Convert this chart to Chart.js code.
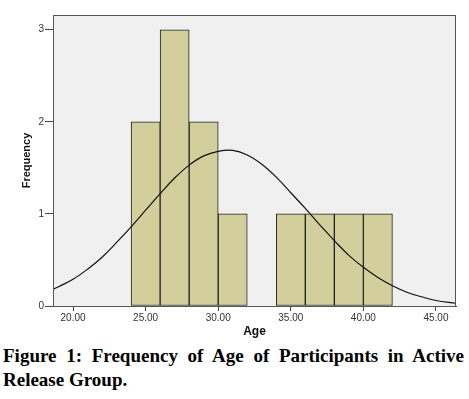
<!DOCTYPE html>
<html>
<head>
<meta charset="utf-8">
<script src="https://cdn.jsdelivr.net/npm/chart.js@4/dist/chart.umd.min.js"></script>
<style>
  body { margin: 0; background: #fff; }
  #wrap { position: relative; width: 469px; height: 340px; }
  #caption {
    width: 461px; margin-left: 3px; margin-top: 4px;
    font-family: "Liberation Serif", "Times New Roman", serif;
    font-weight: bold; font-size: 19px; line-height: 24px;
    text-align: justify; text-align-last: left; color: #000;
  }
</style>
</head>
<body>
<div id="wrap"><canvas id="myChart" width="469" height="340"></canvas></div>
<div id="caption">Figure 1: Frequency of Age of Participants in Active Release Group.</div>
<script>
// histogram bins (centre of each 2-year bin) and counts
var binCenters = [25, 27, 29, 31, 35, 37, 39, 41];
var binCounts = [2, 3, 2, 1, 1, 1, 1, 1];

// normal curve
var curveX = [18.62, 19, 20, 21, 22, 23, 24, 25, 26, 27, 28, 29, 30, 31, 32, 33, 34, 35, 36, 37, 38, 39, 40, 41, 42, 43, 44, 45, 46.38];
var curveY = [0.18, 0.21, 0.29, 0.40, 0.53, 0.69, 0.86, 1.04, 1.22, 1.39, 1.53, 1.63, 1.68, 1.69, 1.64, 1.54, 1.40, 1.23, 1.06, 0.88, 0.71, 0.55, 0.42, 0.31, 0.22, 0.15, 0.10, 0.06, 0.03];

var xTicks = [20, 25, 30, 35, 40, 45];
var yTicks = [0, 1, 2, 3];

var bars = binCenters.map((c, i) => ({ x: c, y: binCounts[i] }));
var curve = curveX.map((x, i) => ({ x: x, y: curveY[i] }));

var plotBg = {
  id: "plotBg",
  beforeDraw(chart) {
    var a = chart.chartArea, ctx = chart.ctx;
    ctx.save();
    ctx.fillStyle = "#f0f0f0";
    ctx.fillRect(a.left, a.top, a.right - a.left, a.bottom - a.top);
    ctx.restore();
  },
  afterDraw(chart) {
    var a = chart.chartArea, ctx = chart.ctx;
    ctx.save();
    ctx.strokeStyle = "#555";
    ctx.lineWidth = 1;
    ctx.strokeRect(a.left + 0.5, a.top + 0.5, a.right - a.left - 1, a.bottom - a.top);
    ctx.restore();
  }
};

new Chart("myChart", {
  type: "bar",
  data: {
    datasets: [{
      type: "line",
      data: curve,
      borderColor: "#111",
      borderWidth: 1.2,
      pointRadius: 0,
      tension: 0.4,
      fill: false,
      order: 0
    }, {
      data: bars,
      backgroundColor: "#d3cf9d",
      borderColor: "#222",
      borderWidth: 1,
      borderSkipped: false,
      barPercentage: 1,
      categoryPercentage: 1,
      order: 1
    }]
  },
  options: {
    responsive: false,
    animation: false,
    layout: { padding: { left: 0, right: 13, top: 15, bottom: 0 } },
    plugins: { legend: { display: false }, tooltip: { enabled: false } },
    scales: {
      x: {
        type: "linear",
        offset: false,
        min: 18.62,
        max: 46.38,
        afterFit: s => { s.height = 34; },
        afterBuildTicks: s => { s.ticks = xTicks.map(v => ({ value: v })); },
        grid: { offset: false, drawOnChartArea: false, drawTicks: true, tickLength: 5, color: "#444" },
        border: { color: "#444" },
        ticks: {
          padding: 1,
          color: "#333",
          font: { family: "Arial, 'Liberation Sans'", size: 10 },
          callback: v => v.toFixed(2)
        },
        title: {
          display: true,
          text: "Age",
          color: "#111",
          padding: { top: 0, bottom: 1 },
          font: { family: "Arial, 'Liberation Sans'", size: 12, weight: "bold" }
        }
      },
      y: {
        min: 0,
        max: 3.16,
        afterFit: s => { s.width = 53; },
        afterBuildTicks: s => { s.ticks = yTicks.map(v => ({ value: v })); },
        grid: { drawOnChartArea: false, drawTicks: true, tickLength: 8, color: "#444" },
        border: { color: "#444" },
        ticks: {
          padding: 1,
          color: "#333",
          font: { family: "Arial, 'Liberation Sans'", size: 10 }
        },
        title: {
          display: true,
          text: "Frequency",
          color: "#111",
          padding: { top: 20, bottom: 0 },
          font: { family: "Arial, 'Liberation Sans'", size: 11, weight: "bold" }
        }
      }
    }
  },
  plugins: [plotBg]
});
</script>
</body>
</html>
